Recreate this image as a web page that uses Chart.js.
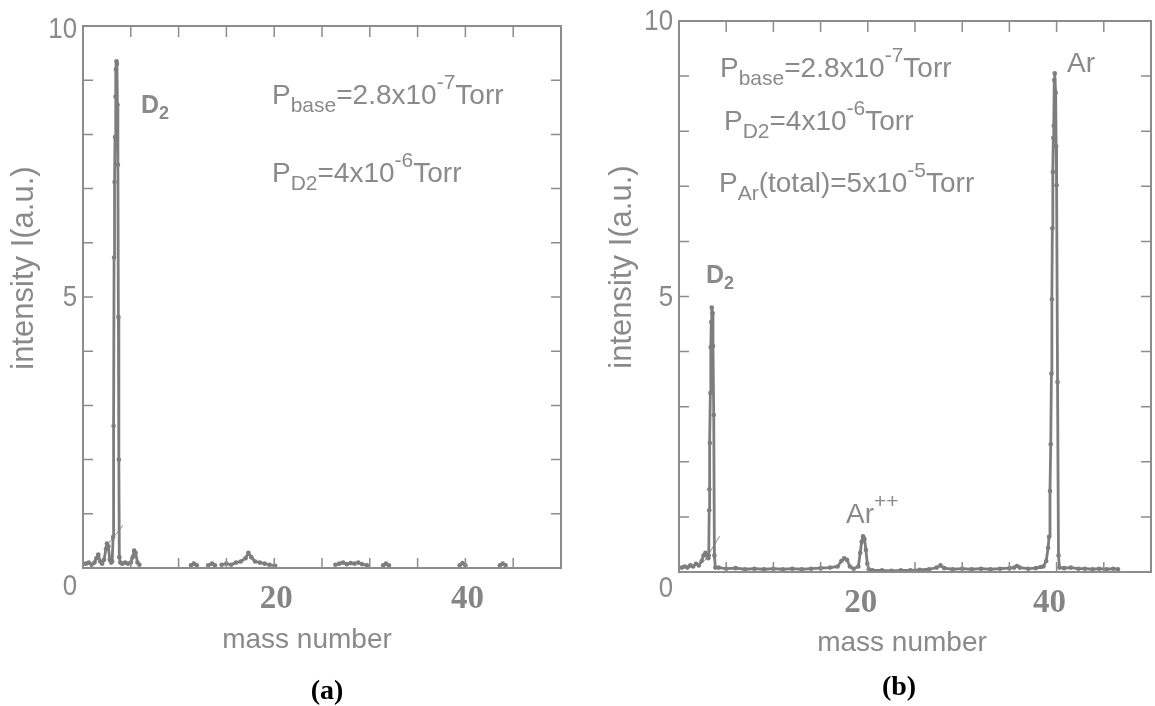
<!DOCTYPE html>
<html lang="en">
<head>
<meta charset="UTF-8">
<title>Mass spectra</title>
<script src="https://cdn.jsdelivr.net/npm/chart.js"></script>
<style>
  body { margin: 0; background: #fff; }
  #wrap { position: relative; width: 1155px; height: 706px; overflow: hidden; }
  canvas { position: absolute; top: 0; }
</style>
</head>
<body>
<div id="wrap">
  <canvas id="chartA" width="578" height="706" style="left:0px"></canvas>
  <canvas id="chartB" width="577" height="706" style="left:578px"></canvas>
</div>

<script>
const massA = [
  0.3, 0.6, 0.9, 1.2, 1.4, 1.6, 1.8, 2.0, 2.2, 2.4, 2.5, 2.65, 2.8, 2.95, 3.05,
  3.15, 3.2, 3.25, 3.3, 3.35, 3.4, 3.45, 3.5, 3.55, 3.6, 3.65, 3.7, 3.75, 3.8,
  3.9, 4.1, 4.4, 4.7, 5.0, 5.2, 5.35, 5.5, 5.7, 5.9,
  8,
  11.3, 11.6, 11.9,
  12.5,
  13.1, 13.5, 13.8,
  14.1,
  14.5, 15.0, 15.5, 16.0, 16.5, 17.0, 17.3, 17.6, 18.0, 18.5, 19.0, 19.5, 20.1,
  23,
  26.4, 26.8, 27.2, 27.6, 28.0, 28.4, 28.8, 29.2, 29.7,
  30.5,
  31.4, 31.7, 32.0,
  36,
  39.4, 39.7, 40.0,
  42,
  43.6, 43.9, 44.2
];
const intensityA = [
  0.08, 0.1, 0.06, 0.1, 0.18, 0.25, 0.12, 0.08, 0.15, 0.35, 0.45, 0.4, 0.15, 0.1, 0.12,
  0.57, 2.62, 5.73, 7.12, 7.95, 8.7, 9.2, 9.35, 9.3, 8.55, 7.44, 4.63, 2.0, 0.2,
  0.1, 0.08, 0.1, 0.08, 0.1, 0.2, 0.32, 0.28, 0.1, 0.06,
  null,
  0.05, 0.08, 0.05,
  null,
  0.05, 0.08, 0.05,
  null,
  0.06, 0.08, 0.06, 0.1, 0.12, 0.18, 0.28, 0.2, 0.12, 0.1, 0.08, 0.06, 0.04,
  null,
  0.06, 0.08, 0.1, 0.07, 0.09, 0.08, 0.1, 0.07, 0.05,
  null,
  0.05, 0.08, 0.05,
  null,
  0.05, 0.09, 0.05,
  null,
  0.05, 0.08, 0.05
];

const massB = [
  0.3, 0.6, 0.9, 1.2, 1.5, 1.8, 2.1, 2.4, 2.6, 2.8, 2.95, 3.1,
  3.15, 3.2, 3.22, 3.27, 3.32, 3.37, 3.42, 3.47, 3.55, 3.6, 3.68, 3.75, 3.85,
  4.2, 5, 6, 7, 8, 9, 10, 11, 12, 13, 14, 15, 16, 16.8,
  17.2, 17.5, 17.8, 18.1, 18.5,
  19.0, 19.2, 19.35, 19.5, 19.65, 19.8, 19.95, 20.1,
  20.5, 21.5, 22.5, 23.5, 24.5, 25.5, 26.5, 27.3, 27.7, 28.1, 29, 30, 31, 32, 33, 34, 35,
  35.5, 35.8, 36.1, 37, 37.8, 38.3,
  38.6, 38.9, 39.1, 39.2, 39.3, 39.38, 39.45, 39.5, 39.55, 39.6, 39.65, 39.7, 39.75, 39.8,
  39.9, 39.95, 40.0, 40.1, 40.2, 40.3,
  40.8, 41.5, 42.3, 43, 43.8, 44.5, 45.3, 46, 46.5
];
const intensityB = [
  0.08, 0.1, 0.08, 0.12, 0.1, 0.15, 0.12, 0.2, 0.3, 0.35, 0.3, 0.25,
  0.3, 1.12, 1.5, 2.34, 3.25, 4.08, 4.54, 4.8, 4.7, 4.1, 2.85, 0.3, 0.08,
  0.08, 0.06, 0.07, 0.05, 0.06, 0.05, 0.06, 0.05, 0.06, 0.05, 0.06, 0.07, 0.08, 0.1,
  0.2, 0.25, 0.22, 0.1, 0.06,
  0.1, 0.35, 0.55, 0.65, 0.6, 0.4, 0.15, 0.05,
  0.03, 0.03, 0.02, 0.03, 0.03, 0.04, 0.05, 0.08, 0.12, 0.07, 0.05, 0.06, 0.05, 0.06, 0.05, 0.06, 0.07,
  0.08, 0.11, 0.08, 0.06, 0.07, 0.09,
  0.1, 0.2, 0.44, 0.64, 1.47, 2.32, 3.6, 4.95, 6.24, 7.26, 7.88, 8.1, 8.93, 9.05,
  8.7, 7.73, 7.02, 3.45, 0.3, 0.08,
  0.07, 0.08, 0.06, 0.06, 0.05, 0.06, 0.05, 0.06, 0.05
];

// small break marks drawn across the foot of the D2 peak
const slashMassA = [2.5, 4.2];
const slashIntA = [0.42, 0.79];
const slashMassB = [2.7, 4.3];
const slashIntB = [0.2, 0.65];

// tick labels
const xLabels = [20, 40];
const yLabels = [0, 5, 10];

const GREY = '#7d7d7d';
const TEXT = '#8a8a8a';

function points(xs, ys) {
  return xs.map((x, i) => ({ x: x, y: ys[i] }));
}

// rich text: parts = [[text, 'n'|'sub'|'sup'|'b'|'bsub'], ...]
function rich(ctx, x, y, parts) {
  let cx = x;
  parts.forEach(([t, k]) => {
    let font = '28px "Liberation Sans", Arial, sans-serif', dy = 0;
    if (k === 'sub') { font = '21px "Liberation Sans", Arial, sans-serif'; dy = 8; }
    if (k === 'sup') { font = '21px "Liberation Sans", Arial, sans-serif'; dy = -15; }
    if (k === 'b') font = 'bold 25px "Liberation Sans", Arial, sans-serif';
    if (k === 'bsub') { font = 'bold 18px "Liberation Sans", Arial, sans-serif'; dy = 6; }
    ctx.font = font;
    ctx.fillText(t, cx, y + dy);
    cx += ctx.measureText(t).width;
  });
}

function frameAndTicks(chart, o) {
  const { ctx, chartArea: a, scales: { x, y } } = chart;
  ctx.save();
  ctx.strokeStyle = '#8c8c8c';
  ctx.lineWidth = 2;
  ctx.strokeRect(a.left, a.top, a.right - a.left, a.bottom - a.top);
  ctx.lineWidth = 1.5;
  ctx.beginPath();
  for (let v = 5; v < 50; v += 5) {
    const px = x.getPixelForValue(v);
    ctx.moveTo(px, a.top); ctx.lineTo(px, a.top + 11);
    ctx.moveTo(px, a.bottom); ctx.lineTo(px, a.bottom - 10);
  }
  for (let v = 1; v < 10; v++) {
    const py = y.getPixelForValue(v);
    ctx.moveTo(a.left, py); ctx.lineTo(a.left + 10, py);
    ctx.moveTo(a.right, py); ctx.lineTo(a.right - 10, py);
  }
  ctx.stroke();

  // y tick labels
  ctx.fillStyle = TEXT;
  ctx.textAlign = 'right';
  ctx.textBaseline = 'middle';
  ctx.font = '30px "Liberation Sans", Arial, sans-serif';
  yLabels.forEach(v => {
    const py = y.getPixelForValue(v) + (v === 0 ? o.zeroDy : (v === 10 ? o.topDy : 1));
    ctx.save();
    ctx.translate(a.left - 6, py);
    ctx.scale(0.86, 1);
    ctx.fillText(String(v), 0, 0);
    ctx.restore();
  });

  // x tick labels
  ctx.textAlign = 'center';
  ctx.font = 'bold 33px "Liberation Serif", "Times New Roman", serif';
  ctx.fillStyle = '#858585';
  xLabels.forEach(v => {
    ctx.fillText(String(v), x.getPixelForValue(v) + o.labelDx, o.labelY);
  });

  // axis titles
  ctx.fillStyle = TEXT;
  ctx.font = '28px "Liberation Sans", Arial, sans-serif';
  ctx.textBaseline = 'alphabetic';
  ctx.fillText('mass number', o.titleX, o.titleY);
  ctx.save();
  ctx.translate(o.yTitleX, o.yTitleY);
  ctx.rotate(-Math.PI / 2);
  ctx.textBaseline = 'middle';
  ctx.font = '31px "Liberation Sans", Arial, sans-serif';
  ctx.fillText('intensity I(a.u.)', 0, 0);
  ctx.restore();

  // panel letter
  ctx.fillStyle = '#000';
  ctx.font = 'bold 28px "Liberation Serif", "Times New Roman", serif';
  ctx.textBaseline = 'middle';
  ctx.fillText(o.panel, o.panelX, o.panelY);
  ctx.restore();
}

function makeChart(id, xs, ys, sx, sy, pad, opts, notes) {
  return new Chart(document.getElementById(id), {
    type: 'line',
    data: {
      datasets: [{
        data: points(xs, ys),
        borderColor: GREY,
        backgroundColor: GREY,
        borderWidth: 2.8,
        borderJoinStyle: 'round',
        borderCapStyle: 'round',
        pointRadius: 2.3,
        pointBorderWidth: 0,
        tension: 0,
        spanGaps: false,
        clip: 6
      }, {
        data: points(sx, sy),
        borderColor: '#8a8a8a',
        borderWidth: 1,
        pointRadius: 0,
        clip: 6
      }]
    },
    options: {
      responsive: false,
      animation: false,
      layout: { padding: pad },
      plugins: { legend: { display: false }, tooltip: { enabled: false } },
      scales: {
        x: { type: 'linear', min: 0, max: 50, display: false },
        y: { type: 'linear', min: 0, max: 10, display: false }
      }
    },
    plugins: [{
      id: 'decor',
      afterDraw(chart) {
        frameAndTicks(chart, opts);
        const ctx = chart.ctx;
        ctx.save();
        ctx.fillStyle = TEXT;
        ctx.textAlign = 'left';
        ctx.textBaseline = 'alphabetic';
        notes(ctx);
        ctx.restore();
      }
    }]
  });
}

makeChart('chartA', massA, intensityA, slashMassA, slashIntA,
  { left: 83, top: 26, right: 17, bottom: 138 },
  { zeroDy: 19, topDy: 4, labelDx: 2, labelY: 599, titleX: 307, titleY: 648,
    yTitleX: 24, yTitleY: 268, panel: '(a)', panelX: 327, panelY: 692 },
  ctx => {
    rich(ctx, 141, 113, [['D', 'b'], ['2', 'bsub']]);
    rich(ctx, 272, 104, [['P', 'n'], ['base', 'sub'], ['=2.8x10', 'n'], ['-7', 'sup'], ['Torr', 'n']]);
    rich(ctx, 272, 182, [['P', 'n'], ['D2', 'sub'], ['=4x10', 'n'], ['-6', 'sup'], ['Torr', 'n']]);
  });

makeChart('chartB', massB, intensityB, slashMassB, slashIntB,
  { left: 101, top: 21, right: 1, bottom: 134 },
  { zeroDy: 17, topDy: 1, labelDx: -7, labelY: 603, titleX: 324, titleY: 651,
    yTitleX: 44, yTitleY: 267, panel: '(b)', panelX: 321, panelY: 688 },
  ctx => {
    rich(ctx, 142, 77, [['P', 'n'], ['base', 'sub'], ['=2.8x10', 'n'], ['-7', 'sup'], ['Torr', 'n']]);
    rich(ctx, 146, 130, [['P', 'n'], ['D2', 'sub'], ['=4x10', 'n'], ['-6', 'sup'], ['Torr', 'n']]);
    rich(ctx, 141, 192, [['P', 'n'], ['Ar', 'sub'], ['(total)=5x10', 'n'], ['-5', 'sup'], ['Torr', 'n']]);
    rich(ctx, 128, 283, [['D', 'b'], ['2', 'bsub']]);
    rich(ctx, 489, 72, [['Ar', 'n']]);
    rich(ctx, 268, 523, [['Ar', 'n'], ['++', 'sup']]);
  });
</script>
</body>
</html>
